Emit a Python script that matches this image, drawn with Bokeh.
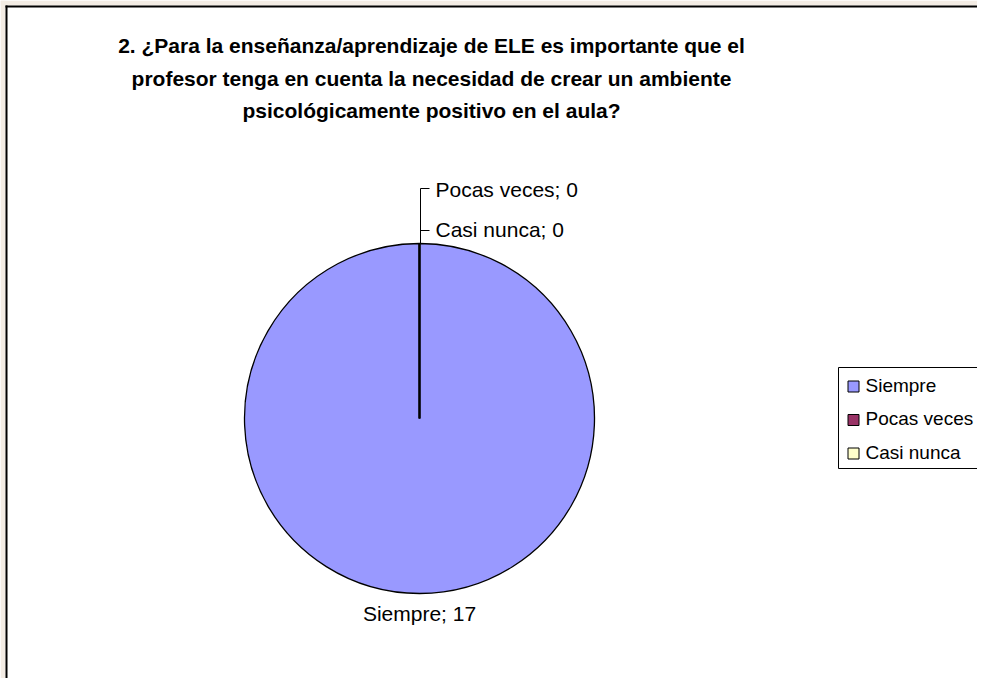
import numpy as np
from bokeh.plotting import figure
from bokeh.models import Range1d
from bokeh.core.properties import value
from bokeh.embed import file_html
from bokeh.resources import INLINE

# ---------------- data ----------------
title_lines = [
    "2. ¿Para la enseñanza/aprendizaje de ELE es importante que el",
    "profesor tenga en cuenta la necesidad de crear un ambiente",
    "psicológicamente positivo en el aula?",
]
categories = ["Siempre", "Pocas veces", "Casi nunca"]
values = [17, 0, 0]
colors = ["#9999FF", "#993366", "#FFFFCC"]

FONT = "Liberation Sans"
W, H = 977, 678

p = figure(width=W, height=H, x_range=Range1d(0, W), y_range=Range1d(0, H),
           output_backend="svg", toolbar_location=None, min_border=0)
p.axis.visible = False
p.grid.visible = False
p.outline_line_color = None
p.background_fill_color = "white"
p.border_fill_color = "white"


def X(xr):
    return xr


def Y(yr):
    return H - yr


TY = 8  # text baseline correction


# outer background strip and chart frame (left and top edges visible)
p.quad(left=[0, 0], right=[5, W], top=[H, H], bottom=[0, H - 5],
       fill_color="#F3ECE4", line_color=None)
p.segment(x0=[6, 5], y0=[0, H - 6], x1=[6, W], y1=[H - 5, H - 6],
          line_color="black", line_width=2)

# ---------------- title ----------------
for i, t in enumerate(title_lines):
    p.text(x=[X(431)], y=[Y(53 + 32.5 * i) + TY], text=[t], text_align="center",
           text_baseline="alphabetic", text_font=value(FONT),
           text_font_size="21px", text_font_style="bold", text_color="black")

# ---------------- pie ----------------
cx, cy, r = X(419), Y(418), 175
vals = np.array(values, dtype=float)
frac = vals / vals.sum()
ends = np.cumsum(frac)
starts = ends - frac
start_ang = np.pi / 2 - 2 * np.pi * starts
end_ang = np.pi / 2 - 2 * np.pi * ends
draw_end = np.where(frac >= 1, end_ang + 1e-3, end_ang)

nz = vals > 0
p.wedge(x=cx, y=cy, radius=r,
        start_angle=list(start_ang[nz]), end_angle=list(draw_end[nz]),
        direction="clock", fill_color=list(np.array(colors)[nz]),
        line_color="black", line_width=1.3)

# zero-value slices collapse to a boundary line
zidx = [i for i in range(len(vals)) if vals[i] == 0]
if zidx:
    za = start_ang[zidx]
    p.segment(x0=[cx] * len(zidx), y0=[cy] * len(zidx),
              x1=list(cx + r * np.cos(za)), y1=list(cy + r * np.sin(za)),
              line_color="black", line_width=2)

# labels for non-zero slices
for i in np.where(nz)[0]:
    mid = (start_ang[i] + end_ang[i]) / 2
    lx = cx + (r + 24) * np.cos(mid)
    ly = cy + (r + 24) * np.sin(mid) - 4 + TY
    p.text(x=[lx], y=[ly], text=[f"{categories[i]}; {values[i]}"],
           text_align="center", text_baseline="alphabetic",
           text_font=value(FONT), text_font_size="21px", text_color="black")

# labels for zero slices, stacked above the pie with leader lines
top_y = cy + r
tick_ys = []
for k, i in enumerate(reversed(zidx)):
    ty = top_y + 13 + 42 * k
    tick_ys.append(ty)
    p.text(x=[cx + 16], y=[ty - 7 - (2 if k > 0 else 0) + TY],
           text=[f"{categories[i]}; {values[i]}"],
           text_align="left", text_baseline="alphabetic",
           text_font=value(FONT), text_font_size="21px", text_color="black")
if tick_ys:
    p.segment(x0=[cx + 1], y0=[top_y], x1=[cx + 1], y1=[max(tick_ys)],
              line_color="black", line_width=1)
    p.segment(x0=[cx + 1] * len(tick_ys), y0=tick_ys,
              x1=[cx + 10] * len(tick_ys), y1=tick_ys,
              line_color="black", line_width=1)

# ---------------- legend ----------------
p.quad(left=[X(838)], right=[X(1000)], top=[Y(367)], bottom=[Y(468)],
       fill_color="white", line_color="black", line_width=1)
for i, c in enumerate(categories):
    p.rect(x=[X(853)], y=[Y(386 + 33.5 * i)], width=11, height=11,
           fill_color=colors[i], line_color="black", line_width=1)
    p.text(x=[X(865)], y=[Y(392.5 + 33.5 * i) + TY], text=[c], text_align="left",
           text_baseline="alphabetic", text_font=value(FONT),
           text_font_size="19px", text_color="black")

open("out.html", "w").write(file_html(p, INLINE))
